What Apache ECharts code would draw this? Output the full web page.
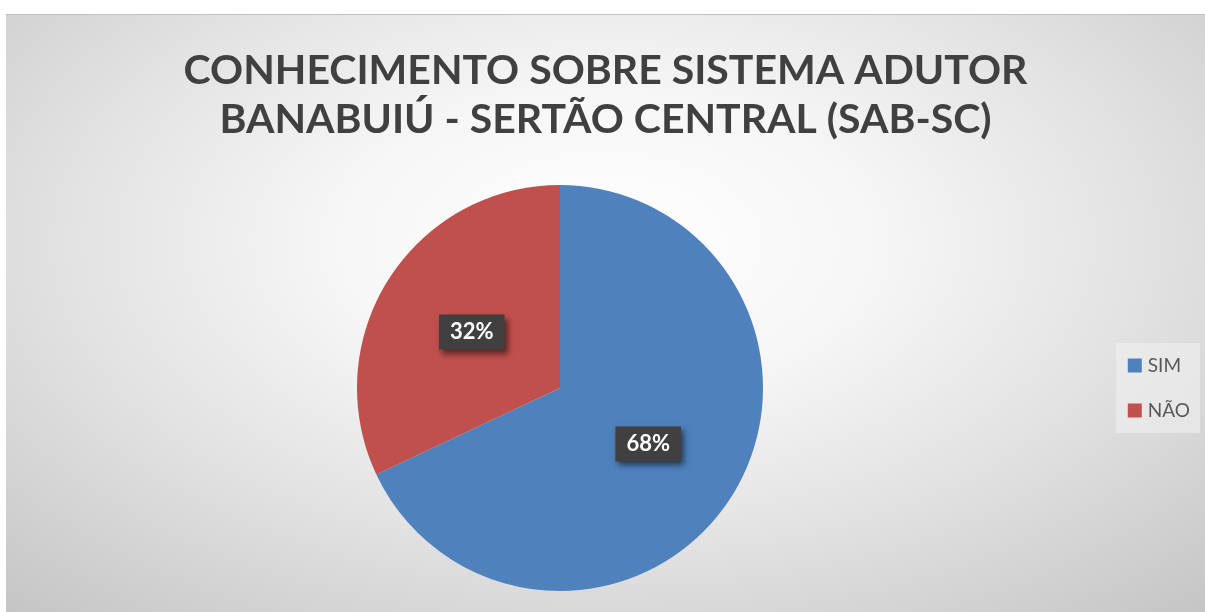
<!DOCTYPE html>
<html><head><meta charset="utf-8">
<script src="https://cdn.jsdelivr.net/npm/echarts@6/dist/echarts.min.js"></script>
<style>
html,body{margin:0;padding:0;background:#fff;width:1205px;height:612px;overflow:hidden;}
#chart{position:absolute;left:6px;top:14px;width:1199px;height:598px;
background:radial-gradient(ellipse 75% 85% at 50% 38%, #ffffff 0%, #f6f6f6 30%, #e2e2e2 60%, #c4c4c4 100%);
border-top:1px solid #c0c0c0;box-sizing:border-box;}
</style></head>
<body><div id="chart"></div>
<script>
const titleText = "CONHECIMENTO SOBRE SISTEMA ADUTOR\nBANABUIÚ - SERTÃO CENTRAL (SAB-SC)";
const categories = ["SIM", "NÃO"];
const values = [68, 32];
const colors = ["#4f81bd", "#c0504d"];

const chart = echarts.init(document.getElementById('chart'));
chart.setOption({
  backgroundColor: 'transparent',
  animation: false,
  title: {
    text: titleText,
    left: 'center',
    top: 26,
    textStyle: {fontFamily: 'Lato', fontWeight: 'bold', fontSize: 41, color: '#404040', lineHeight: 49}
  },
  legend: {
    orient: 'vertical',
    right: 5,
    top: 328,
    itemWidth: 14, itemHeight: 14,
    itemGap: 26,
    padding: [13, 10, 13, 12],
    backgroundColor: 'rgba(240,240,240,0.6)',
    icon: 'rect',
    data: categories,
    textStyle: {fontFamily: 'Lato', fontSize: 19, color: '#595959', padding: [0,0,0,1]}
  },
  series: [{
    type: 'pie',
    center: [554, 373],
    radius: 203,
    startAngle: 90,
    clockwise: true,
    data: categories.map((c, i) => ({name: c, value: values[i], itemStyle: {color: colors[i]}})),
    label: {
      position: 'inside',
      formatter: p => p.value + '%',
      fontFamily: 'Lato', fontWeight: 'bold', fontSize: 22, color: '#ffffff',
      backgroundColor: '#404040',
      padding: [7, 11, 6, 11],
      shadowColor: 'rgba(0,0,0,0.55)', shadowBlur: 6, shadowOffsetX: 3, shadowOffsetY: 4
    },
    labelLine: {show: false}
  }]
});
</script></body></html>
